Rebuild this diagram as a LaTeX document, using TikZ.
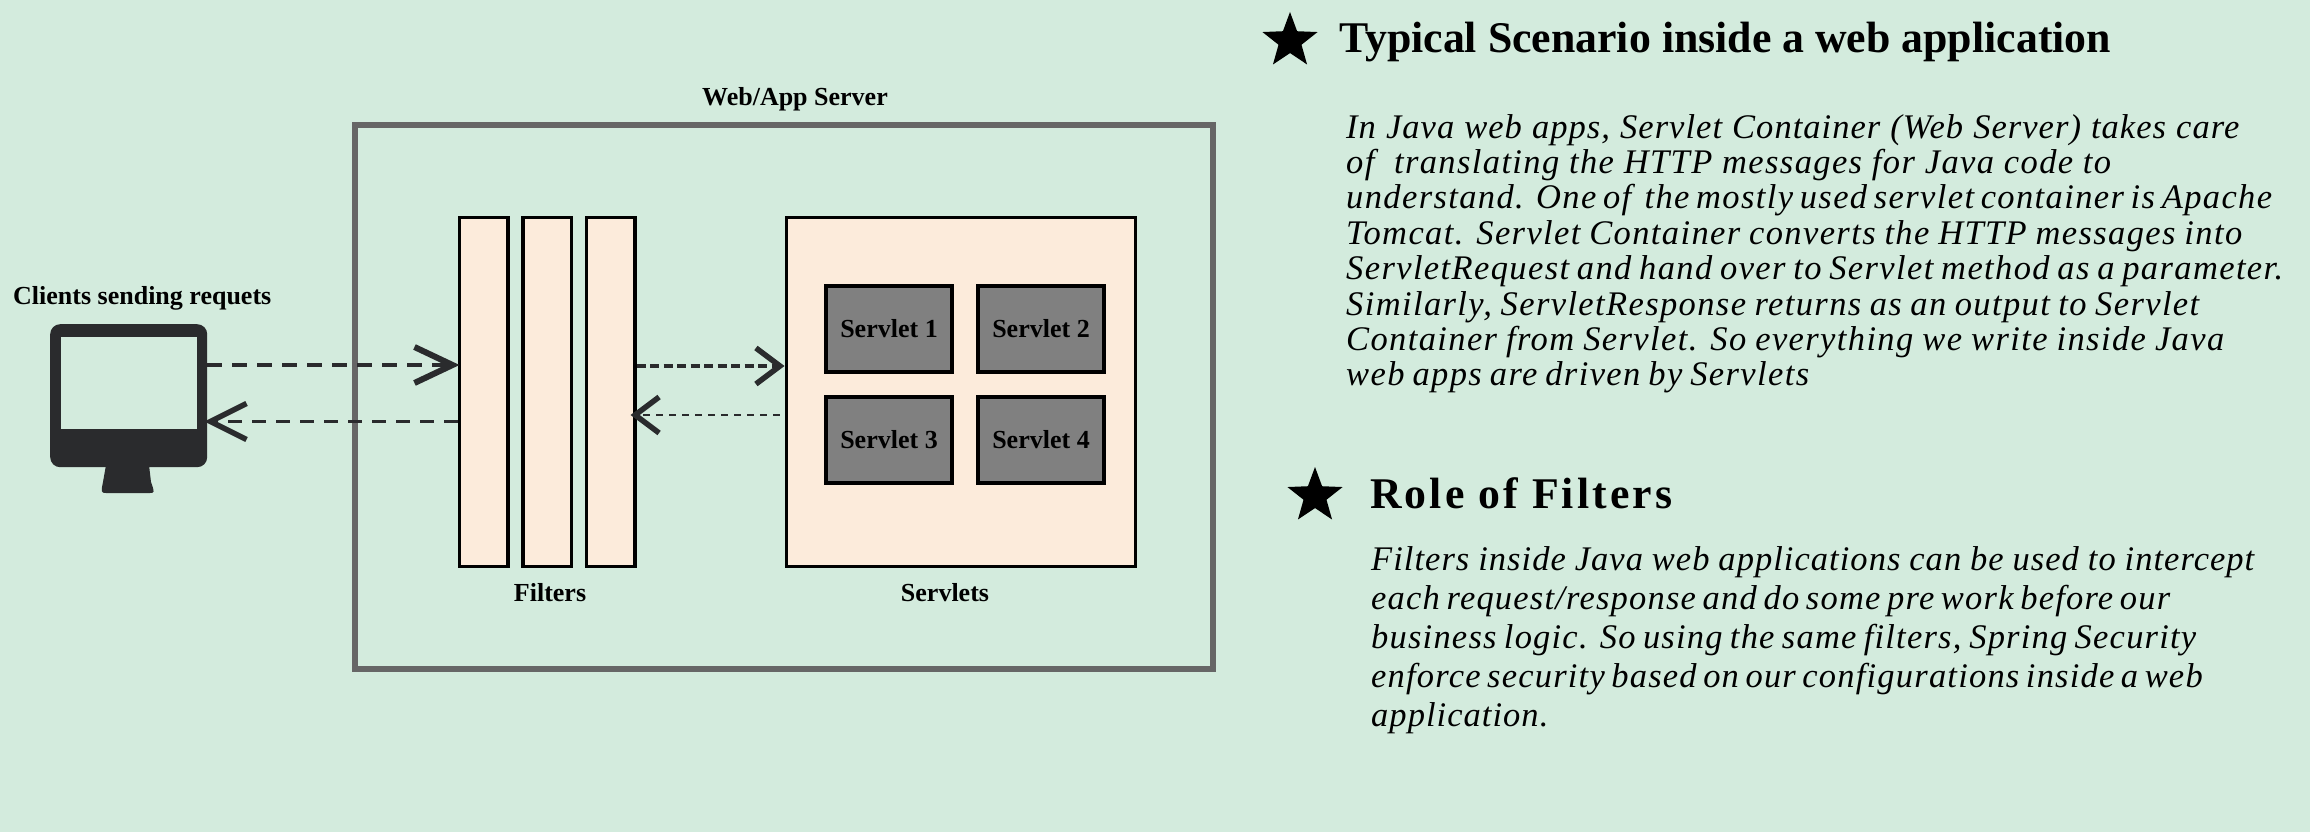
\documentclass[tikz,border=0pt]{standalone}
\usepackage{fontspec}
\setmainfont{Liberation Serif}
\newfontfamily\bodyfont[LetterSpace=3]{Liberation Serif}
\newfontfamily\bodywide[LetterSpace=4]{Liberation Serif}
\newfontfamily\bodymid[LetterSpace=3.5]{Liberation Serif}
\newfontfamily\rolefont[LetterSpace=7]{Liberation Serif}
\usetikzlibrary{arrows.meta,shapes.geometric}
\definecolor{bgc}{HTML}{D3EBDD}
\definecolor{peach}{HTML}{FCEBDB}
\definecolor{srv}{HTML}{808080}
\definecolor{dark}{HTML}{2A2B2D}
\definecolor{frame}{HTML}{666666}
\newcommand{\tline}[2]{\makebox[#1pt][s]{#2}}
\tikzset{
 x=1pt,y=-1pt,
 filterbox/.style={draw=black,fill=peach,line width=3.5pt,anchor=north west,inner sep=0,minimum width=48.5pt,minimum height=349pt},
 servletbox/.style={draw=black,fill=srv,line width=4pt,anchor=north west,inner sep=0,minimum width=126pt,minimum height=86pt,font=\fontsize{26}{30}\selectfont\bfseries},
 lbl/.style={font=\fontsize{26}{30}\selectfont\bfseries,inner sep=0},
 head/.style={font=\fontsize{43.8}{50}\selectfont\bfseries,inner sep=0,anchor=west},
 para/.style={inner sep=0,anchor=north west,align=left,font=\fontsize{34.5}{35.4}\selectfont\itshape},
 starnode/.style={star,star points=5,star point ratio=2.4,fill=black,inner sep=0,minimum size=58pt},
 barb/.style 2 args={-{Straight Barb[length=#1,width=36pt,line width=#2]},dark},
}
\begin{document}
\begin{tikzpicture}
\useasboundingbox (0,0) rectangle (2310,832);
\fill[bgc] (0,0) rectangle (2310,832);
\node[draw=frame,line width=6pt,anchor=north west,inner sep=0,minimum width=858pt,minimum height=544pt] (server) at (352,122) {};
\node[lbl] (serverlbl) at (795,99) {Web/App Server};
\node[filterbox] (f1) at (457.5,215.5) {};
\node[filterbox] (f2) at (521,215.5) {};
\node[filterbox] (f3) at (584.5,215.5) {};
\node[lbl] (filterslbl) at (550,593) {Filters};
\node[draw=black,fill=peach,line width=3.5pt,anchor=north west,inner sep=0,minimum width=349pt,minimum height=349pt] (servlets) at (784.5,215.5) {};
\node[lbl] (servletslbl) at (945,593) {Servlets};
\node[servletbox] (s1) at (824,284) {Servlet 1};
\node[servletbox] (s2) at (976,284) {Servlet 2};
\node[servletbox] (s3) at (824,395) {Servlet 3};
\node[servletbox] (s4) at (976,395) {Servlet 4};
\node[lbl,anchor=west] (clients) at (13,298) {Clients sending requets};
% monitor
\fill[dark] (106,465) -- (149,465) -- (151,482) .. controls (155,493) and (154,493) .. (150,493) -- (106,493) .. controls (101,493) and (101,492) .. (103,482) -- cycle;
\node[fill=dark,rounded corners=10pt,anchor=north west,inner sep=0,minimum width=157pt,minimum height=143pt] (monitor) at (50,324) {};
\node[fill=bgc,anchor=north west,inner sep=0,minimum width=136pt,minimum height=92pt] (screen) at (61,337) {};
% connectors
\coordinate (ya) at (0,365);
\coordinate (yb) at (0,421.5);
\coordinate (yc) at (0,366);
\coordinate (yd) at (0,415);
\draw[barb={38pt}{6pt},line width=4.3pt,dash pattern=on 15pt off 10pt,shorten >=-2pt] (monitor.east |- ya) -- (f1.west |- ya);
\draw[barb={36pt}{5.5pt},line width=2.8pt,dash pattern=on 14pt off 10pt,shorten >=-3pt] (f1.west |- yb) -- (monitor.east |- yb);
\draw[barb={24pt}{5.5pt},line width=4pt,dash pattern=on 9pt off 4.5pt] (f3.east |- yc) -- (servlets.west |- yc);
\draw[barb={24pt}{5.5pt},line width=2.8pt,dash pattern=on 7pt off 6pt,shorten <=5pt,shorten >=-6pt] (servlets.west |- yd) -- (f3.east |- yd);
% right text
\node[starnode] (star1) at (1290,41) {};
\node[head] (title1) at (1339,42) {Typical Scenario inside a web application};
\node[para] (para1) at (1346,114) {\tline{893}{\bodyfont In Java web apps, Servlet Container (Web Server) takes care}\\
\tline{765}{\bodywide of \ translating the HTTP messages for Java code to}\\
\tline{925}{\bodywide understand. One of \ the mostly used servlet container is Apache}\\
\tline{896}{\bodywide Tomcat. Servlet Container converts the HTTP messages into}\\
\tline{937}{\bodywide ServletRequest and hand over to Servlet method as a parameter.}\\
\tline{853}{\bodywide Similarly, ServletResponse returns as an output to Servlet}\\
\tline{878}{\bodywide Container from Servlet. So everything we write inside Java}\\
\tline{463}{\bodywide web apps are driven by Servlets}};
\node[starnode] (star2) at (1315,496) {};
\node[head] (title2) at (1370,493) {\rolefont Role of Filters};
\node[para,font=\fontsize{34.5}{39}\selectfont\itshape] (para2) at (1371,546) {\tline{883}{\bodyfont Filters inside Java web applications can be used to intercept}\\
\tline{799}{\bodymid each request/response and do some pre work before our}\\
\tline{825}{\bodymid business logic. So using the same filters, Spring Security}\\
\tline{830}{\bodymid enforce security based on our configurations inside a web}\\
{\bodyfont application.}};
\end{tikzpicture}
\end{document}
